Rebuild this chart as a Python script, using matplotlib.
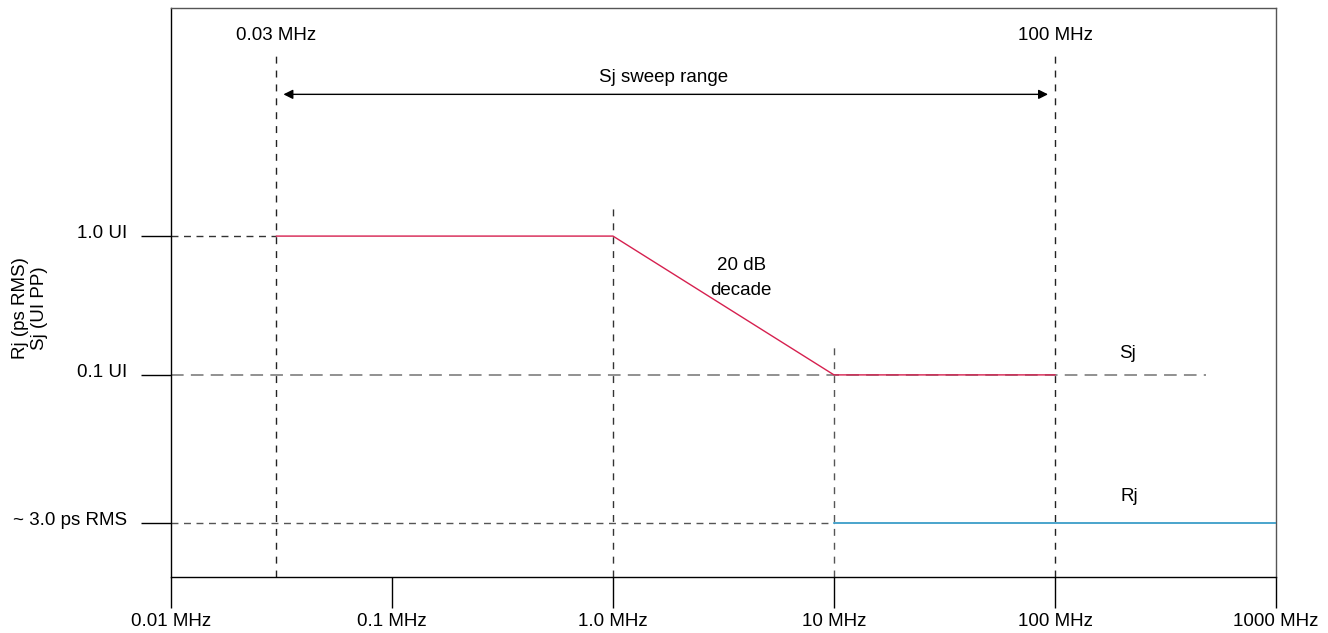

# Sj / Rj jitter tolerance mask
# Topics: matplotlib, log axes

import numpy as np
import matplotlib.pyplot as plt
from matplotlib.transforms import ScaledTranslation

plt.rcParams['font.family'] = ['Liberation Sans', 'DejaVu Sans']

# Data: Sj mask (frequency in MHz, amplitude in UI pp)
sj_freq = [0.03, 1.0, 10.0, 100.0]
sj_amp = [1.0, 1.0, 0.1, 0.1]

# Rj level (drawn at its own level on the schematic axis)
rj_freq = [10.0, 1000.0]
rj_level = [0.0085, 0.0085]

# Axis ticks
x_ticks = [0.01, 0.1, 1.0, 10.0, 100.0, 1000.0]
x_labels = ['0.01 MHz', '0.1 MHz', '1.0 MHz', '10 MHz', '100 MHz', '1000 MHz']
y_ticks = [1.0, 0.1, 0.0085]
y_labels = ['1.0 UI', '0.1 UI', '~ 3.0 ps RMS']

# Sweep range limits
sweep = [0.03, 100.0]

fs = 13.5

fig = plt.figure(figsize=(13.28, 6.33), dpi=100)
ax = fig.add_axes([0.1288, 0.0885, 0.832, 0.8989])
ax.set_xscale('log')
ax.set_yscale('log')
ax.set_xlim(0.01, 1000)
ax.set_ylim(0.0035, 44)

# Guide lines
ax.axvline(sweep[0], 0.0, 0.926, color='#222222', lw=1, ls=(0, (5, 5)))
ax.axvline(sweep[1], 0.0, 0.926, color='#222222', lw=1, ls=(0, (5, 5)))
ax.axvline(sj_freq[1], 0.0, 0.6485, color='#333333', lw=1, ls=(0, (5, 5)))
ax.axvline(sj_freq[2], 0.0, 0.411, color='#555555', lw=1, ls=(0, (5, 5)))
ax.plot([0.01, sj_freq[0]], [sj_amp[0], sj_amp[0]], color='#333333', lw=1, ls=(0, (5, 4)))
ax.plot([0.01, 480], [sj_amp[2], sj_amp[2]], color='#888888', lw=1.3, ls=(0, (7, 4)))
ax.plot([0.01, rj_freq[0]], rj_level, color='#555555', lw=1, ls=(0, (5, 4)))

# Mask lines
ax.plot(sj_freq, sj_amp, color='#d6204f', lw=1, zorder=3)
ax.plot(rj_freq, rj_level, color='#2b95c3', lw=1.2, zorder=3)

# Sweep arrow and labels
ax.annotate('', xy=(sweep[0], 10.5), xytext=(sweep[1], 10.5),
            arrowprops=dict(arrowstyle='<|-|>', color='black', lw=1,
                            shrinkA=5, shrinkB=5, mutation_scale=14))
ax.text(1.7, 14, 'Sj sweep range', ha='center', va='center', fontsize=fs)
ax.text(sweep[0], 28, '0.03 MHz', ha='center', va='center', fontsize=fs)
ax.text(sweep[1], 28, '100 MHz', ha='center', va='center', fontsize=fs)
ax.text(3.8, 0.5, '20 dB\ndecade', ha='center', va='center', fontsize=fs, linespacing=1.6)
ax.text(212, 0.142, 'Sj', ha='center', va='center', fontsize=fs)
ax.text(217, 0.0132, 'Rj', ha='center', va='center', fontsize=fs)

# Axis label
ax.text(-0.1276, 0.473, 'Rj (ps RMS)\nSj (UI PP)', transform=ax.transAxes,
        rotation=90, ha='center', va='center', fontsize=fs, multialignment='center')

# Ticks
ax.set_xticks(x_ticks)
ax.set_xticklabels(x_labels, fontsize=fs)
ax.set_yticks(y_ticks)
ax.set_yticklabels(y_labels, fontsize=fs)
ax.minorticks_off()
ax.tick_params(axis='x', direction='out', length=22, width=1, pad=4)
ax.tick_params(axis='y', direction='out', length=21.6, width=1, pad=10)
for lbl in ax.get_yticklabels():
    lbl.set_transform(lbl.get_transform() + ScaledTranslation(0, 0.045, fig.dpi_scale_trans))

for side in ['left', 'bottom']:
    ax.spines[side].set_color('black')
    ax.spines[side].set_linewidth(1)
for side in ['top', 'right']:
    ax.spines[side].set_color('#555555')
    ax.spines[side].set_linewidth(1)

plt.savefig('out.png', dpi=100)
